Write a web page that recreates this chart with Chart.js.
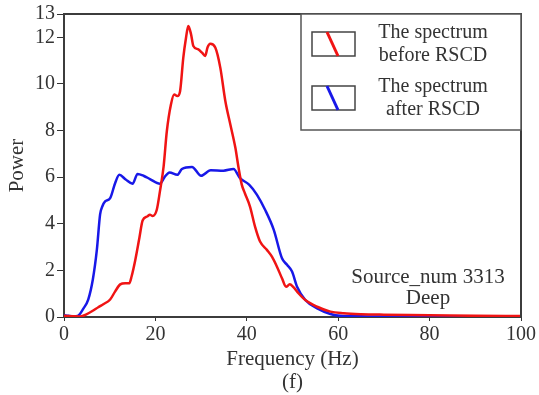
<!DOCTYPE html>
<html>
<head>
<meta charset="utf-8">
<script src="https://cdn.jsdelivr.net/npm/chart.js@4"></script>
<style>
  body { margin: 0; background: #fff; }
  canvas { display: block; }
</style>
</head>
<body>
<canvas id="c" width="539" height="395"></canvas>
<script>
// spectrum before RSCD (red)
const freqBefore = [0, 2, 3.5, 5, 6.4, 7.5, 8.6, 10.1, 11.2, 12.3, 13.4, 14.3, 14.8, 15.6, 16.5, 17.2, 18.2, 18.8, 19.4, 20.3,
  21.0, 21.8, 22.5, 23.4, 24.1, 24.8, 25.4, 26.1, 26.7, 27.2, 27.8, 28.3, 29.4, 30.2, 30.9, 31.4, 32.0, 33.1, 34.2, 35.3,
  36.4, 37.5, 38.2, 38.9, 39.6, 40.7, 41.8, 42.9, 44.4, 45.5, 46.6, 47.7, 48.6, 49.4, 50.2, 51.3, 52.8, 55.4, 58.3, 61.2,
  65, 70, 80, 90, 100]
const powerBefore = [0.05, 0.03, 0.02, 0.12, 0.28, 0.42, 0.55, 0.75, 1.1, 1.4, 1.45, 1.45, 1.75, 2.45, 3.4, 4.14, 4.31, 4.39, 4.33, 4.6,
  5.4, 6.46, 7.97, 9.12, 9.55, 9.48, 9.69, 11.12, 11.98, 12.49, 12.13, 11.63, 11.48, 11.34, 11.2, 11.56, 11.72, 11.56, 10.7, 9.27,
  8.26, 7.26, 6.4, 5.68, 5.3, 4.74, 3.88, 3.24, 2.88, 2.59, 2.16, 1.66, 1.3, 1.4, 1.28, 1.02, 0.73, 0.44, 0.23, 0.16,
  0.12, 0.1, 0.08, 0.05, 0.04]

// spectrum after RSCD (blue)
const freqAfter = [0, 1, 2, 3, 4.2, 5.3, 6.3, 7.2, 7.9, 8.4, 9.0, 10.1, 11.2, 12.1, 13.5, 15.0, 16.1, 17.5, 18.8, 21.0,
  22.0, 23.1, 24.8, 25.8, 28.0, 30.0, 32.1, 34.9, 37.1, 38.5, 40.5, 42.2, 44.0, 45.9, 47.7, 48.8, 49.9, 51.0, 52.8, 55.4,
  58.3, 60.5, 65, 70, 80, 90, 100]
const powerAfter = [0.08, 0.05, 0.03, 0.05, 0.35, 0.75, 1.6, 2.9, 4.4, 4.75, 4.96, 5.1, 5.75, 6.1, 5.9, 5.72, 6.14, 6.05, 5.92, 5.72,
  6.0, 6.2, 6.1, 6.35, 6.44, 6.06, 6.3, 6.28, 6.35, 5.96, 5.68, 5.25, 4.6, 3.74, 2.52, 2.24, 1.95, 1.3, 0.73, 0.37,
  0.13, 0.05, 0.03, 0.02, 0.02, 0.02, 0.02]

const xTicks = [0, 20, 40, 60, 80, 100]
const yTicks = [0, 2, 4, 6, 8, 10, 12, 13]
const legendBefore = ['The spectrum', 'before RSCD']
const legendAfter = ['The spectrum', 'after RSCD']
const noteLines = ['Source_num 3313', 'Deep']

const FONT = '"Liberation Serif", "Times New Roman", serif'
const INK = '#333'

function pts(xs, ys) {
  return xs.map((v, i) => ({x: v, y: ys[i]}))
}

const extras = {
  id: 'extras',
  afterDraw(chart) {
    const ctx = chart.ctx
    const a = chart.chartArea
    ctx.save()
    // top + right frame
    ctx.strokeStyle = '#3c3c3c'
    ctx.lineWidth = 2
    ctx.beginPath()
    ctx.moveTo(a.left, a.top)
    ctx.lineTo(a.right, a.top)
    ctx.lineTo(a.right, a.bottom)
    ctx.stroke()

    // legend box
    const bx = a.right - 220, by = a.top
    ctx.fillStyle = '#fff'
    ctx.fillRect(bx, by, 220, 116)
    ctx.strokeStyle = '#555'
    ctx.lineWidth = 1.5
    ctx.strokeRect(bx, by, 220, 116)

    ctx.font = '20px ' + FONT
    ctx.textAlign = 'center'
    ctx.textBaseline = 'middle'
    chart.data.datasets.forEach((ds, i) => {
      const top = by + 18 + i * 54
      ctx.strokeStyle = '#444'
      ctx.lineWidth = 1.5
      ctx.strokeRect(bx + 11, top, 43, 24)
      ctx.strokeStyle = ds.borderColor
      ctx.lineWidth = 3
      ctx.beginPath()
      ctx.moveTo(bx + 26, top)
      ctx.lineTo(bx + 37, top + 24)
      ctx.stroke()
      ctx.fillStyle = INK
      ds.legendLines.forEach((t, j) => ctx.fillText(t, bx + 132, top + 1 + j * 23))
    })

    // source note
    ctx.font = '21px ' + FONT
    noteLines.forEach((t, j) => ctx.fillText(t, a.left + 364, a.bottom - 40 + j * 21))
    ctx.restore()
  }
}

new Chart(document.getElementById('c'), {
  type: 'line',
  data: {
    datasets: [{
      label: 'The spectrum before RSCD',
      legendLines: legendBefore,
      data: pts(freqBefore, powerBefore),
      borderColor: '#f01414',
      borderWidth: 2.5,
      pointRadius: 0,
      cubicInterpolationMode: 'monotone',
      fill: false
    }, {
      label: 'The spectrum after RSCD',
      legendLines: legendAfter,
      data: pts(freqAfter, powerAfter),
      borderColor: '#1818e8',
      borderWidth: 2.5,
      pointRadius: 0,
      cubicInterpolationMode: 'monotone',
      fill: false
    }]
  },
  options: {
    responsive: false,
    animation: false,
    devicePixelRatio: 1,
    layout: {padding: {top: 14, right: 18, left: 0, bottom: 0}},
    plugins: {
      legend: {display: false},
      tooltip: {enabled: false}
    },
    scales: {
      x: {
        type: 'linear',
        min: 0,
        max: 100,
        afterBuildTicks: s => { s.ticks = xTicks.map(v => ({value: v})) },
        afterFit: s => { s.height = 78 },
        grid: {display: true, drawOnChartArea: false, tickLength: 4, color: INK},
        border: {display: true, color: '#3c3c3c', width: 2},
        ticks: {color: INK, padding: 2, font: {family: FONT, size: 20}, maxRotation: 0},
        title: {
          display: true,
          text: ['Frequency (Hz)', '(f)'],
          color: INK,
          padding: {top: 0, bottom: 1},
          font: {family: FONT, size: 21, lineHeight: 1.1}
        }
      },
      y: {
        type: 'linear',
        min: 0,
        max: 13,
        afterBuildTicks: s => { s.ticks = yTicks.map(v => ({value: v})) },
        afterFit: s => { s.width = 64 },
        grid: {display: true, drawOnChartArea: false, tickLength: 7, color: INK},
        border: {display: true, color: '#3c3c3c', width: 2},
        ticks: {color: INK, padding: 2, font: {family: FONT, size: 20}},
        title: {
          display: true,
          text: 'Power',
          color: INK,
          padding: {top: 5, bottom: 0},
          font: {family: FONT, size: 21}
        }
      }
    }
  },
  plugins: [extras]
})
</script>
</body>
</html>
